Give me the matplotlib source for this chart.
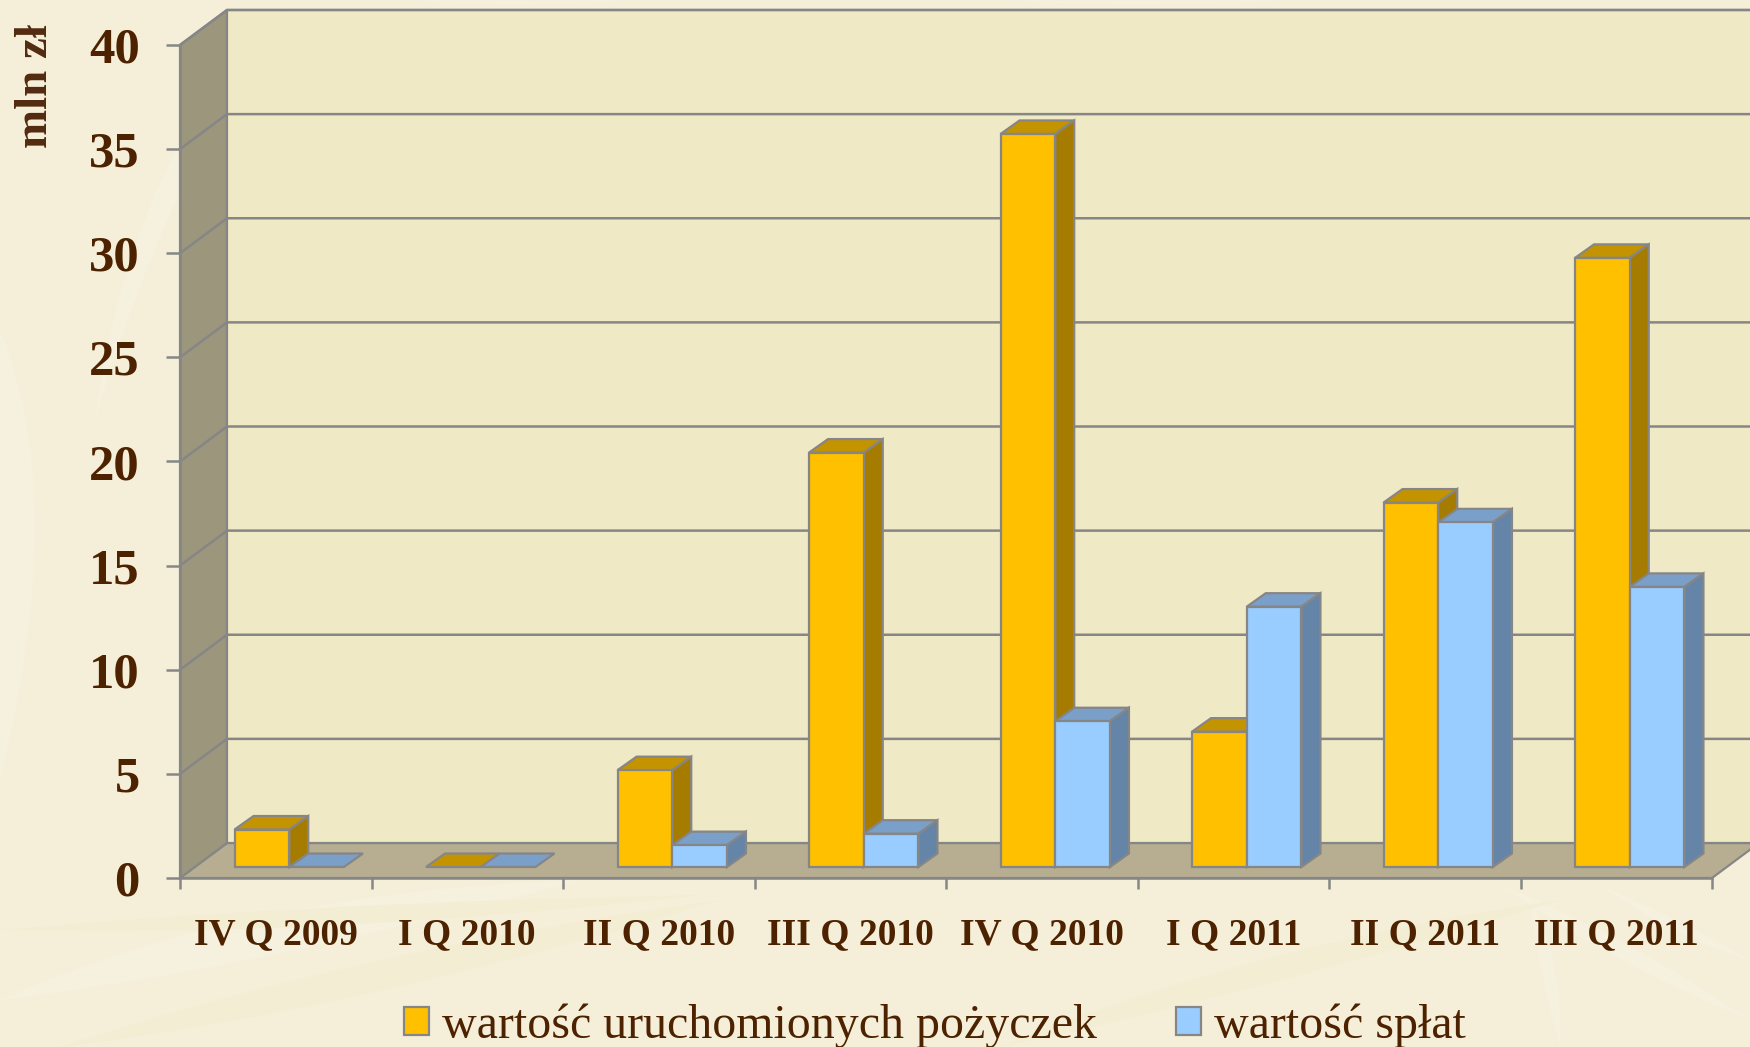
import matplotlib
matplotlib.use("Agg")
import matplotlib.pyplot as plt
import numpy as np
from matplotlib.patches import Polygon, Patch, PathPatch
from matplotlib.path import Path

categories = ["IV Q 2009", "I Q 2010", "II Q 2010", "III Q 2010",
              "IV Q 2010", "I Q 2011", "II Q 2011", "III Q 2011"]
loans = [1.8, 0.0, 4.65, 19.9, 35.2, 6.5, 17.5, 29.25]
repayments = [0.0, 0.0, 1.05, 1.6, 7.0, 12.5, 16.55, 13.45]
series_names = ["wartość uruchomionych pożyczek", "wartość spłat"]
y_ticks = [0, 5, 10, 15, 20, 25, 30, 35, 40]
y_title = "mln zł"

W, H = 1750, 1047
BROWN = "#4d2200"
GREY = "#868686"
plt.rcParams["font.family"] = ["Liberation Serif", "DejaVu Serif"]

fig = plt.figure(figsize=(W / 100, H / 100), dpi=100, facecolor="#f5efd9")

# faint feather pattern of the slide background
bg = fig.add_axes([0, 0, 1, 1], zorder=0)
bg.set_xlim(0, W); bg.set_ylim(H, 0); bg.axis("off")
def stroke(p0, c, p1, w, col):
    # a tapered curved feather
    a = np.array(p0, float); b = np.array(p1, float); m = np.array(c, float)
    n = np.array([-(b - a)[1], (b - a)[0]]); n = n / np.hypot(*n) * w
    verts = [a, m + n, b, m - n, a]
    codes = [Path.MOVETO, Path.CURVE3, Path.CURVE3, Path.CURVE3, Path.CURVE3]
    bg.add_patch(PathPatch(Path(verts, codes), fc=col, ec="none"))
LIGHT, DARK = "#f6f1df", "#f3edd4"
for s in [((95, 420), (150, 160), (290, 0), 22, LIGHT),
          ((0, 780), (30, 500), (0, 330), 40, "#f6f1de"),
          ((0, 1000), (250, 930), (580, 880), 40, LIGHT),
          ((60, 1047), (360, 980), (720, 900), 30, DARK),
          ((0, 930), (320, 920), (700, 895), 18, DARK),
          ((1500, 885), (1620, 950), (1750, 1020), 16, LIGHT),
          ((1600, 885), (1680, 930), (1750, 960), 10, LIGHT),
          ((1560, 1047), (1550, 960), (1530, 900), 14, LIGHT),
          ((1000, 1047), (1250, 970), (1560, 900), 24, DARK),
          ((410, 0), (500, 5), (640, 0), 4, LIGHT),
          ((1000, 0), (1120, 5), (1300, 0), 4, LIGHT)]:
    stroke(*s)

ax = fig.add_axes([180 / W, (H - 878) / H, 1532 / W, 833 / H], zorder=1)
ax.patch.set_visible(False)
ax.set_xlim(0, len(categories))
ax.set_ylim(0, 40)
ux = 1532 / len(categories)   # pixels per category
uy = 833 / 40                 # pixels per unit of value

def px(dx, dy):
    return dx / ux, dy / uy

def poly(points, fc, z, ec=GREY, lw=1.6):
    ax.add_patch(Polygon(points, closed=True, fc=fc, ec=ec, lw=lw, zorder=z,
                         clip_on=False, joinstyle="miter"))

n = len(categories)
Dx, Dy = px(47, 35)
ymax = y_ticks[-1]
poly([(0, 0), (n, 0), (n + Dx, Dy), (Dx, Dy)], "#b7ae91", 1)
poly([(0, 0), (Dx, Dy), (Dx, ymax + Dy), (0, ymax)], "#9c967c", 1)
poly([(Dx, Dy), (n + Dx, Dy), (n + Dx, ymax + Dy), (Dx, ymax + Dy)], "#f0e9c6", 1)
for v in y_ticks[1:]:
    ax.plot([0, Dx, n + Dx], [v, v + Dy, v + Dy], color=GREY, lw=1.8,
            zorder=2, clip_on=False, solid_capstyle="butt")

# bars stand a little behind the front edge of the floor
ox, oy = px(13.5, 11)
bx, by = px(19, 13.5)
bw = 54.7 / ux
centers = np.arange(n) + 0.5 + ox
z = 3
styles = [(loans, -bw / 2, "#ffc000", "#c49400", "#a67c00"),
          (repayments, bw / 2, "#99ccff", "#7a9fc9", "#6485a8")]
for vals, shift, front, top, side in styles:
    for c, v in zip(centers, vals):
        xl, xr = c + shift - bw / 2, c + shift + bw / 2
        ytop = v + oy
        poly([(xl, ytop), (xr, ytop), (xr + bx, ytop + by), (xl + bx, ytop + by)], top, z)
        if v > 0:
            poly([(xr, oy), (xr + bx, oy + by), (xr + bx, ytop + by), (xr, ytop)], side, z)
            ax.bar(c + shift, v, bw, bottom=oy, color=front, edgecolor=GREY,
                   linewidth=1.6, zorder=z + 0.5, clip_on=False)
        z += 1

for sp in ("top", "right"):
    ax.spines[sp].set_visible(False)
for sp in ("left", "bottom"):
    ax.spines[sp].set_color(GREY)
    ax.spines[sp].set_linewidth(1.8)
    ax.spines[sp].set_zorder(2.5)

ax.set_yticks(y_ticks)
ax.set_yticklabels([str(v) for v in y_ticks], fontsize=36.5, fontweight="bold", color=BROWN)
ax.tick_params(axis="y", length=10, width=1.8, color=GREY, pad=19)
ax.set_xticks(np.arange(n + 1))
ax.set_xticklabels([])
ax.tick_params(axis="x", which="major", length=8, width=1.8, color=GREY)
ax.set_xticks(np.arange(n) + 0.5, minor=True)
ax.set_xticklabels(categories, minor=True, fontsize=27, fontweight="bold", color=BROWN)
ax.tick_params(axis="x", which="minor", length=0, pad=28)

fig.text(36 / W, 1 - 86.5 / H, y_title, rotation=90, ha="center", va="center",
         fontsize=33.8, fontweight="bold", color="#522a10")

handles = [Patch(fc="#ffc000", ec=GREY, lw=1.6), Patch(fc="#99ccff", ec=GREY, lw=1.6)]
fig.legend(handles, series_names, ncol=2, loc="center", bbox_to_anchor=(935 / W, 1 - 1026 / H),
           frameon=False, fontsize=34.5, labelcolor=BROWN, handlelength=0.52, handleheight=0.52,
           handletextpad=0.28, columnspacing=1.65, borderpad=0, borderaxespad=0)

fig.savefig("out.png", dpi=100, facecolor=fig.get_facecolor())
